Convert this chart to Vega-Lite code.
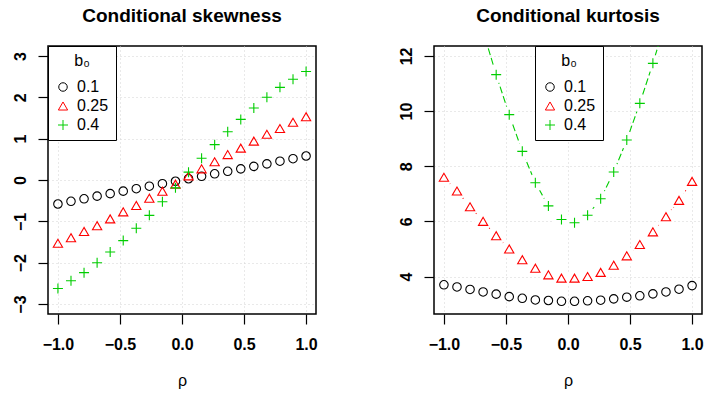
{
  "$schema": "https://vega.github.io/schema/vega-lite/v6.json",
  "padding": {"left": 11, "top": 5, "right": 0, "bottom": 0},
  "background": "white",
  "datasets": {
    "d": [
      {"rho": -1.0, "b0": "0.1", "skew": -0.58, "kurt": 3.70},
      {"rho": -0.8947, "b0": "0.1", "skew": -0.515, "kurt": 3.62},
      {"rho": -0.7895, "b0": "0.1", "skew": -0.455, "kurt": 3.53},
      {"rho": -0.6842, "b0": "0.1", "skew": -0.39, "kurt": 3.44},
      {"rho": -0.5789, "b0": "0.1", "skew": -0.33, "kurt": 3.36},
      {"rho": -0.4737, "b0": "0.1", "skew": -0.27, "kurt": 3.27},
      {"rho": -0.3684, "b0": "0.1", "skew": -0.21, "kurt": 3.21},
      {"rho": -0.2632, "b0": "0.1", "skew": -0.15, "kurt": 3.15},
      {"rho": -0.1579, "b0": "0.1", "skew": -0.09, "kurt": 3.13},
      {"rho": -0.0526, "b0": "0.1", "skew": -0.03, "kurt": 3.10},
      {"rho": 0.0526, "b0": "0.1", "skew": 0.03, "kurt": 3.10},
      {"rho": 0.1579, "b0": "0.1", "skew": 0.09, "kurt": 3.12},
      {"rho": 0.2632, "b0": "0.1", "skew": 0.15, "kurt": 3.14},
      {"rho": 0.3684, "b0": "0.1", "skew": 0.21, "kurt": 3.19},
      {"rho": 0.4737, "b0": "0.1", "skew": 0.27, "kurt": 3.25},
      {"rho": 0.5789, "b0": "0.1", "skew": 0.33, "kurt": 3.30},
      {"rho": 0.6842, "b0": "0.1", "skew": 0.39, "kurt": 3.37},
      {"rho": 0.7895, "b0": "0.1", "skew": 0.455, "kurt": 3.44},
      {"rho": 0.8947, "b0": "0.1", "skew": 0.515, "kurt": 3.54},
      {"rho": 1.0, "b0": "0.1", "skew": 0.58, "kurt": 3.67},
      {"rho": -1.0, "b0": "0.25", "skew": -1.53, "kurt": 7.60},
      {"rho": -0.8947, "b0": "0.25", "skew": -1.395, "kurt": 7.10},
      {"rho": -0.7895, "b0": "0.25", "skew": -1.245, "kurt": 6.53},
      {"rho": -0.6842, "b0": "0.25", "skew": -1.105, "kurt": 6.00},
      {"rho": -0.5789, "b0": "0.25", "skew": -0.94, "kurt": 5.48},
      {"rho": -0.4737, "b0": "0.25", "skew": -0.77, "kurt": 5.00},
      {"rho": -0.3684, "b0": "0.25", "skew": -0.615, "kurt": 4.61},
      {"rho": -0.2632, "b0": "0.25", "skew": -0.44, "kurt": 4.30},
      {"rho": -0.1579, "b0": "0.25", "skew": -0.27, "kurt": 4.06},
      {"rho": -0.0526, "b0": "0.25", "skew": -0.10, "kurt": 3.94},
      {"rho": 0.0526, "b0": "0.25", "skew": 0.10, "kurt": 3.94},
      {"rho": 0.1579, "b0": "0.25", "skew": 0.27, "kurt": 4.00},
      {"rho": 0.2632, "b0": "0.25", "skew": 0.44, "kurt": 4.15},
      {"rho": 0.3684, "b0": "0.25", "skew": 0.615, "kurt": 4.41},
      {"rho": 0.4737, "b0": "0.25", "skew": 0.77, "kurt": 4.75},
      {"rho": 0.5789, "b0": "0.25", "skew": 0.94, "kurt": 5.16},
      {"rho": 0.6842, "b0": "0.25", "skew": 1.105, "kurt": 5.62},
      {"rho": 0.7895, "b0": "0.25", "skew": 1.245, "kurt": 6.17},
      {"rho": 0.8947, "b0": "0.25", "skew": 1.395, "kurt": 6.76},
      {"rho": 1.0, "b0": "0.25", "skew": 1.53, "kurt": 7.45},
      {"rho": -1.0, "b0": "0.4", "skew": -2.625, "kurt": 18.6},
      {"rho": -0.8947, "b0": "0.4", "skew": -2.435, "kurt": 16.5},
      {"rho": -0.7895, "b0": "0.4", "skew": -2.24, "kurt": 14.6},
      {"rho": -0.6842, "b0": "0.4", "skew": -2.0, "kurt": 12.9},
      {"rho": -0.5789, "b0": "0.4", "skew": -1.74, "kurt": 11.32},
      {"rho": -0.4737, "b0": "0.4", "skew": -1.465, "kurt": 9.87},
      {"rho": -0.3684, "b0": "0.4", "skew": -1.165, "kurt": 8.54},
      {"rho": -0.2632, "b0": "0.4", "skew": -0.855, "kurt": 7.40},
      {"rho": -0.1579, "b0": "0.4", "skew": -0.525, "kurt": 6.56},
      {"rho": -0.0526, "b0": "0.4", "skew": -0.19, "kurt": 6.07},
      {"rho": 0.0526, "b0": "0.4", "skew": 0.19, "kurt": 5.95},
      {"rho": 0.1579, "b0": "0.4", "skew": 0.525, "kurt": 6.22},
      {"rho": 0.2632, "b0": "0.4", "skew": 0.855, "kurt": 6.82},
      {"rho": 0.3684, "b0": "0.4", "skew": 1.165, "kurt": 7.79},
      {"rho": 0.4737, "b0": "0.4", "skew": 1.465, "kurt": 8.95},
      {"rho": 0.5789, "b0": "0.4", "skew": 1.74, "kurt": 10.28},
      {"rho": 0.6842, "b0": "0.4", "skew": 2.0, "kurt": 11.73},
      {"rho": 0.7895, "b0": "0.4", "skew": 2.24, "kurt": 13.3},
      {"rho": 0.8947, "b0": "0.4", "skew": 2.435, "kurt": 15.0},
      {"rho": 1.0, "b0": "0.4", "skew": 2.625, "kurt": 16.9}
    ]
  },
  "spacing": 79,
  "resolve": {
    "scale": {"color": "independent", "shape": "independent", "size": "independent", "y": "independent", "strokeDash": "independent", "stroke": "independent"},
    "legend": {"color": "independent", "shape": "independent"}
  },
  "hconcat": [
    {
      "width": 268,
      "height": 268,
      "data": {"name": "d"},
      "title": {"text": "Conditional skewness"},
      "mark": {"type": "point", "filled": false, "strokeWidth": 1.1, "clip": true, "opacity": 1},
      "encoding": {
        "x": {"field": "rho", "type": "quantitative", "scale": {"domain": [-1.08, 1.08], "nice": false, "zero": false}, "axis": {"values": [-1, -0.5, 0, 0.5, 1], "labelExpr": "replace(format(datum.value, '.1f'), '-', '\u2212')", "title": "ρ"}},
        "y": {"field": "skew", "type": "quantitative", "scale": {"domain": [-3.24, 3.24], "nice": false, "zero": false}, "axis": {"values": [-3, -2, -1, 0, 1, 2, 3], "labelExpr": "replace(format(datum.value, 'd'), '-', '\u2212')", "title": null}},
        "color": {"field": "b0", "type": "nominal", "title": "b₀", "scale": {"domain": ["0.1", "0.25", "0.4"], "range": ["#000000", "#FF0000", "#00CD00"]}, "legend": {"legendX": 0, "legendY": 0}},
        "shape": {"field": "b0", "type": "nominal", "title": "b₀", "scale": {"domain": ["0.1", "0.25", "0.4"], "range": ["circle", "triangle-up", "M-1,0L1,0M0,-1L0,1"]}, "legend": {"legendX": 0, "legendY": 0}},
        "size": {"field": "b0", "type": "ordinal", "scale": {"domain": ["0.1", "0.25", "0.4"], "range": [72, 100, 110]}, "legend": null}
      }
    },
    {
      "width": 268,
      "height": 268,
      "data": {"name": "d"},
      "title": {"text": "Conditional kurtosis"},
      "encoding": {
        "x": {"field": "rho", "type": "quantitative", "scale": {"domain": [-1.08, 1.08], "nice": false, "zero": false}, "axis": {"values": [-1, -0.5, 0, 0.5, 1], "labelExpr": "replace(format(datum.value, '.1f'), '-', '\u2212')", "title": "ρ"}},
        "y": {"field": "kurt", "type": "quantitative", "scale": {"domain": [2.64, 12.36], "nice": false, "zero": false}, "axis": {"values": [4, 6, 8, 10, 12], "title": null}}
      },
      "layer": [
        {
          "transform": [{"filter": "datum.b0 != '0.1'"}],
          "mark": {"type": "line", "strokeWidth": 1.1, "clip": true},
          "encoding": {
            "stroke": {"field": "b0", "type": "nominal", "scale": {"domain": ["0.25", "0.4"], "range": ["#FF0000", "#00CD00"]}, "legend": null},
            "strokeDash": {"field": "b0", "type": "nominal", "scale": {"domain": ["0.25", "0.4"], "range": [[1, 3], [7, 3]]}, "legend": null}
          }
        },
        {
          "transform": [{"filter": "datum.b0 != '0.1'"}],
          "mark": {"type": "point", "shape": "circle", "filled": true, "fill": "white", "strokeWidth": 0, "opacity": 1, "size": 300, "clip": true},
          "encoding": {}
        },
        {
          "mark": {"type": "point", "filled": false, "strokeWidth": 1.1, "clip": true, "opacity": 1},
          "encoding": {
            "color": {"field": "b0", "type": "nominal", "title": "b₀", "scale": {"domain": ["0.1", "0.25", "0.4"], "range": ["#000000", "#FF0000", "#00CD00"]}, "legend": {"legendX": 101, "legendY": 0}},
            "shape": {"field": "b0", "type": "nominal", "title": "b₀", "scale": {"domain": ["0.1", "0.25", "0.4"], "range": ["circle", "triangle-up", "M-1,0L1,0M0,-1L0,1"]}, "legend": {"legendX": 101, "legendY": 0}},
            "size": {"field": "b0", "type": "ordinal", "scale": {"domain": ["0.1", "0.25", "0.4"], "range": [72, 100, 110]}, "legend": null}
          }
        }
      ]
    }
  ],
  "config": {
    "font": "Liberation Sans",
    "view": {"stroke": "black", "strokeWidth": 1.5},
    "title": {"fontSize": 19, "fontWeight": "bold", "color": "black", "frame": "group", "anchor": "middle", "offset": 20},
    "axis": {
      "domain": false,
      "tickColor": "black",
      "tickSize": 10,
      "tickWidth": 1.2,
      "labelFontSize": 16,
      "labelFontWeight": "bold",
      "labelColor": "black",
      "labelPadding": 10,
      "grid": true,
      "gridColor": "#D3D3D3",
      "gridDash": [1, 3],
      "gridWidth": 1,
      "titleFontSize": 16,
      "titleFontWeight": "normal",
      "titleColor": "black",
      "titlePadding": 14
    },
    "axisX": {"labelPadding": 12, "titlePadding": 20},
    "axisY": {"labelAngle": -90},
    "legend": {
      "orient": "none",
      "strokeColor": "black",
      "fillColor": "white",
      "padding": 7,
      "titleFontSize": 16,
      "titleFontWeight": "normal",
      "titleColor": "black",
      "titleAnchor": "middle",
      "titlePadding": 10,
      "labelFontSize": 16,
      "labelColor": "black",
      "rowPadding": 3,
      "symbolStrokeWidth": 1,
      "symbolSize": 50,
      "labelOffset": 6
    }
  }
}
